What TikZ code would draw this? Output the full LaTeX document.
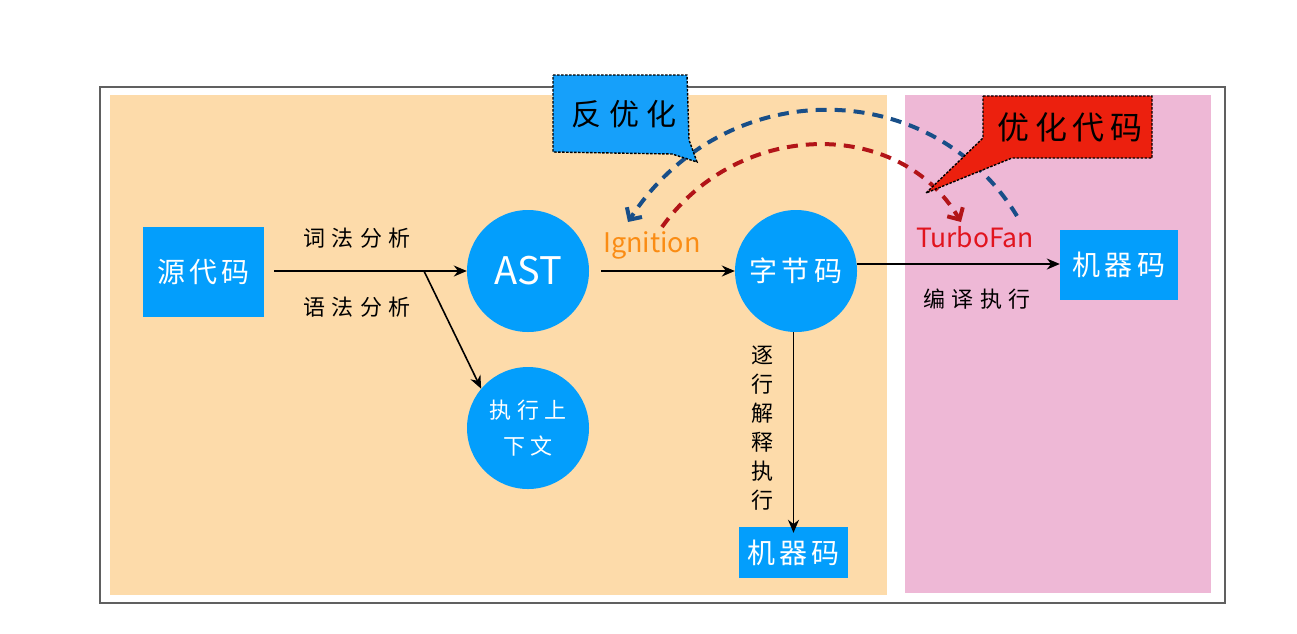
\documentclass[tikz,border=0pt]{standalone}
\usepackage{fontspec}
\setmainfont{Noto Sans CJK SC}
\usetikzlibrary{arrows.meta}
\definecolor{bgorange}{RGB}{253,219,170}
\definecolor{bgpink}{RGB}{238,184,214}
\definecolor{nodeblue}{RGB}{3,158,252}
\definecolor{callblue}{RGB}{22,160,250}
\definecolor{callred}{RGB}{236,32,14}
\definecolor{dashblue}{RGB}{24,78,136}
\definecolor{dashred}{RGB}{178,20,24}
\definecolor{ignorange}{RGB}{250,140,20}
\definecolor{turbored}{RGB}{225,20,30}
\newcommand{\myspaced}[2]{\fontsize{#1}{#1}\selectfont\addfontfeatures{LetterSpace=#2}}
\tikzset{
  boxnode/.style={fill=nodeblue, text=white, inner sep=0pt, font=\myspaced{28}{15}},
  circnode/.style={circle, fill=nodeblue, text=white, minimum size=122pt, inner sep=0pt},
  flow/.style={line width=1.6pt, -{Stealth[length=13pt,width=11pt]}},
  lbl/.style={font=\myspaced{22}{30}, text=black, inner sep=0pt},
  dashcurve/.style={line width=4pt, dash pattern=on 11pt off 8pt, -{Straight Barb[length=9pt,width=18pt,line width=4pt]}},
  callout/.style={draw=black, line width=1.4pt, dash pattern=on 2.5pt off 1.5pt},
}
\begin{document}
\begin{tikzpicture}[x=1pt,y=-1pt]
\useasboundingbox (0,0) rectangle (1297,633);
% outer frame
\draw[gray!75!black, line width=1.3pt] (100,87) rectangle (1225,603);
% backgrounds
\fill[bgorange] (110,95) rectangle (887,595);
\fill[bgpink] (905,95) rectangle (1211,593);

% nodes
\node[boxnode, minimum width=121pt, minimum height=90pt] (src) at (203.5,272) {源代码};
\node[circnode, font=\fontsize{38}{38}\selectfont] (ast) at (528,271) {AST};
\node[circnode, font=\myspaced{22}{25}, align=center] (ctx) at (528,428) {执行上\\[14pt]下文};
\node[circnode, font=\myspaced{28}{15}] (bc) at (796,271) {字节码};
\node[boxnode, minimum width=109pt, minimum height=51pt] (mc2) at (793.5,552.5) {机器码};
\node[boxnode, minimum width=118pt, minimum height=70pt] (mc1) at (1119,265) {机器码};

% labels
\node[lbl] (l1) at (357,238) {词法分析};
\node[lbl] (l2) at (357,307) {语法分析};
\node[lbl] (l3) at (977,299) {编译执行};
\node[lbl, align=center, font=\fontsize{22}{29}\selectfont] (l4) at (762,428) {逐\\行\\解\\释\\执\\行};
\node[font=\fontsize{27}{27}\selectfont, text=ignorange, inner sep=0pt] (ign) at (652,245) {Ignition};
\node[font=\fontsize{26.5}{27}\selectfont, text=turbored, inner sep=0pt] (tf) at (975,237) {TurboFan};

% connectors
\coordinate (s0) at (274,271);
\coordinate (br) at (424,271);
\draw[flow] (s0) -- (ast.west);
\draw[flow] (br) -- (ctx.140);
\draw[flow] ([xshift=12pt]ast.east) -- (bc.west);
\draw[flow] ([yshift=1pt]mc1.west -| bc.east) -- ([yshift=1pt]mc1.west);
\draw[flow] (bc.south -| mc2.north) -- ([yshift=-6pt]mc2.north);

% dashed curves
\coordinate (bs) at (1017,216);
\coordinate (be) at (628,222);
\draw[dashcurve, dashblue] (bs) .. controls (930,74) and (724,74) .. (be);
\coordinate (rs) at (662,227);
\coordinate (re) at (961,222);
\draw[dashcurve, dashred] (rs) .. controls (740,118) and (900,118) .. (re);

% callouts
\draw[callout, fill=callblue] (553,75) -- (687,75) -- (689,140) -- (697,162) -- (672,154) -- (553,152) -- cycle;
\node[font=\myspaced{30}{25}, text=black, inner sep=0pt] (c1) at (624,114) {反优化};
\draw[callout, fill=callred] (983,96) -- (1152,96) -- (1152,158) -- (1012,158) -- (926,193) -- (983,138) -- cycle;
\node[font=\myspaced{32}{18}, text=black, inner sep=0pt] (c2) at (1070,127) {优化代码};
\end{tikzpicture}
\end{document}
